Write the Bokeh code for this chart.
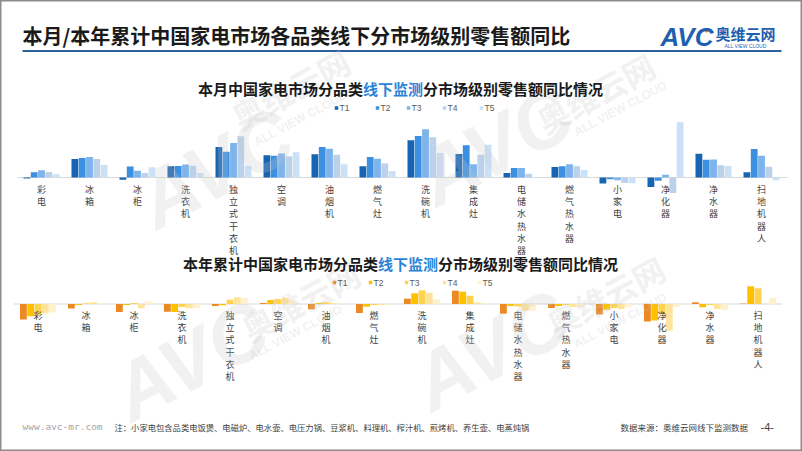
from bokeh.plotting import figure
from bokeh.models import ColumnDataSource, FactorRange, Range1d, Label
from bokeh.transform import dodge
from bokeh.core.properties import value
from bokeh.embed import file_html
from bokeh.resources import INLINE

# ---------------- data ----------------
categories = ["彩电", "冰箱", "冰柜", "洗衣机", "独立式干衣机", "空调", "油烟机", "燃气灶",
              "洗碗机", "集成灶", "电储水热水器", "燃气热水器", "小家电", "净化器", "净水器", "扫地机器人"]
series = ["T1", "T2", "T3", "T4", "T5"]

# 本月 (monthly) YoY, relative units
month_T1 = [-1.0, 18.5, -2.2, 11.2, 30.5, 22.3, 23.3, 11.2, 37.2, 23.5, 4.5, 10.5, -6.0, -9.5, 23.8, 5.2]
month_T2 = [5.3, 19.5, 11.0, 11.5, 25.8, 21.8, 30.5, 20.5, 41.5, 32.2, 9.5, 11.2, -1.7, -3.3, 17.8, 28.5]
month_T3 = [7.3, 20.5, 6.8, 13.0, 34.5, 24.0, 28.7, 18.7, 48.2, 13.3, 9.5, 13.3, -2.7, 2.8, 18.0, 21.7]
month_T4 = [5.6, 18.5, 4.5, 11.8, 41.3, 21.2, 22.7, 14.0, 40.2, 22.7, 3.7, 11.2, -5.5, -15.5, 12.2, 10.7]
month_T5 = [3.3, 12.5, 10.2, 4.5, 11.8, 25.2, 13.3, 6.5, 24.5, 32.7, 0.3, 7.5, -5.7, 55.3, 11.5, -2.7]

# 本年累计 (year-to-date) YoY
ytd_T1 = [-15.5, -4.5, -8.0, -7.8, -2.0, 1.0, -5.3, -9.0, 5.3, 13.3, -9.7, -4.0, -10.5, -17.5, 1.7, 0.4]
ytd_T2 = [-12.3, -1.0, -1.0, -8.0, -1.2, 4.0, 1.0, -2.7, 10.7, 12.3, -2.0, -2.0, -5.7, -16.5, -3.3, 17.7]
ytd_T3 = [-11.0, 0.8, 1.0, -3.0, 4.3, 5.0, 1.7, -1.0, 13.7, 8.3, -2.5, -1.0, -4.0, -10.0, -1.0, 15.7]
ytd_T4 = [-9.3, 1.7, -4.3, -4.3, 6.8, 6.3, 1.0, -1.0, 11.2, 1.7, -6.7, -3.0, -5.0, -26.5, -5.0, 0.3]
ytd_T5 = [-8.3, 0.5, 2.7, -4.3, 6.0, 4.0, 0.3, -0.5, 4.5, 0.5, -6.7, -3.0, -3.0, -3.0, -6.0, 6.0]

main_title = "本月/本年累计中国家电市场各品类线下分市场级别零售额同比"
top_title = ["本月中国家电市场分品类", "线下监测", "分市场级别零售额同比情况"]
bot_title = ["本年累计中国家电市场分品类", "线下监测", "分市场级别零售额同比情况"]
note_text = "注：小家电包含品类电饭煲、电磁炉、电水壶、电压力锅、豆浆机、料理机、榨汁机、煎烤机、养生壶、电蒸炖锅"
source_text = "数据来源：奥维云网线下监测数据"

# ---------------- styles ----------------
blues = ["#1565B3", "#3D8FE0", "#7DB4EC", "#BCD2EA", "#CBE1F8"]
oranges = ["#EB8A22", "#FFC000", "#FFD34F", "#FFE39A", "#FFF1CC"]
CJK = "Noto Sans CJK SC"
W, H = 802, 451
PAD = 0.354
UNIT = W / (len(categories) + 2 * PAD)   # pixels per category slot


def X(px):
    """page pixel -> synthetic x coordinate of the categorical range (for layout texts)"""
    return px / UNIT - PAD


cat_range = FactorRange(factors=categories, range_padding=PAD, range_padding_units="absolute")

p = figure(width=W, height=H, x_range=cat_range, y_range=Range1d(H, 0),
           x_axis_location=None, y_axis_location=None, output_backend="svg",
           toolbar_location=None, min_border=0)
p.grid.visible = False
p.outline_line_color = "#8c8c8c"
p.outline_line_width = 2
p.background_fill_color = "white"
p.border_fill_color = "white"
p.extra_y_ranges = {"top": Range1d(-274, 177), "bot": Range1d(-147.5, 303.5)}

src_top = ColumnDataSource(dict(cat=categories, T1=month_T1, T2=month_T2, T3=month_T3, T4=month_T4, T5=month_T5,
                                lab=["\n".join(c) for c in categories]))
src_bot = ColumnDataSource(dict(cat=categories, T1=ytd_T1, T2=ytd_T2, T3=ytd_T3, T4=ytd_T4, T5=ytd_T5,
                                lab=["\n".join(c) for c in categories]))

step = 0.152
bw = 0.142
offsets = [(i - 2) * step for i in range(5)]
shift_bot = -0.073


# ---------------- watermarks (drawn first, faint) ----------------
def watermark(ax, ay, bx, by, cx, cy):
    kw = dict(text_align="center", text_baseline="middle", angle=28, angle_units="deg",
              text_color="#C8C8C8", text_alpha=0.25)
    p.add_layout(Label(x=X(ax), y=ay, text="AVC", text_font="Liberation Sans", text_font_size="80px",
                       text_font_style="bold italic", **kw))
    p.add_layout(Label(x=X(bx), y=by, text="奥维云网", text_font=CJK, text_font_size="32px",
                       text_font_style="bold", **kw))
    p.add_layout(Label(x=X(cx), y=cy, text="ALL VIEW CLOUD", text_font="Liberation Sans", text_font_size="12px",
                       text_font_style="bold", **kw))


watermark(215, 168, 290, 88, 300, 118)
watermark(495, 145, 595, 92, 620, 108)
watermark(190, 360, 300, 300, 295, 332)
watermark(490, 350, 605, 295, 620, 320)

# baselines
base_src = ColumnDataSource(dict(a=[categories[0]], b=[categories[-1]], y=[0]))
p.segment(x0=dodge("a", -0.5, range=cat_range), x1=dodge("b", 0.55, range=cat_range), y0="y", y1="y",
          source=base_src, y_range_name="top", line_color="#D9D9D9", line_width=1)
p.segment(x0=dodge("a", -0.5 + shift_bot, range=cat_range), x1=dodge("b", 0.5 + shift_bot, range=cat_range),
          y0="y", y1="y", source=base_src, y_range_name="bot", line_color="#D9D9D9", line_width=1)

for s, off, cb, co in zip(series, offsets, blues, oranges):
    p.vbar(x=dodge("cat", off, range=cat_range), top=s, bottom=0, width=bw, source=src_top,
           y_range_name="top", fill_color=cb, line_color=None)
    p.vbar(x=dodge("cat", off + shift_bot, range=cat_range), top=s, bottom=0, width=bw, source=src_bot,
           y_range_name="bot", fill_color=co, line_color=None)

# category labels (vertical text)
p.text(x=dodge("cat", 0.0, range=cat_range), y=-5, text="lab", source=src_top,
       y_range_name="top", text_font=value(CJK), text_font_size="9px", text_line_height=0.95,
       text_align="center", text_baseline="top", text_color="#404040")
p.text(x=dodge("cat", shift_bot, range=cat_range), y=-4.5, text="lab", source=src_bot,
       y_range_name="bot", text_font=value(CJK), text_font_size="9px", text_line_height=0.95,
       text_align="center", text_baseline="top", text_color="#404040")

# ---------------- header ----------------
p.add_layout(Label(x=X(22), y=35, text=main_title, text_font=CJK, text_font_size="20px", text_font_style="bold",
                   text_baseline="middle", text_color="#1a1a1a"))
p.segment(x0=[X(22)], x1=[X(781)], y0=[50.5], y1=[50.5], line_color="#2C5F9E", line_width=2)

# logo
p.add_layout(Label(x=X(660), y=36, text="AVC", text_font="Liberation Sans", text_font_size="26px",
                   text_font_style="bold italic", text_baseline="middle", text_color="#1F5FB0"))
p.scatter(x=[X(706)], y=[30], size=4, marker="circle", fill_color="#F08A1C", line_color=None)
p.add_layout(Label(x=X(715), y=33, text="奥维云网", text_font=CJK, text_font_size="15px",
                   text_font_style="bold", text_baseline="middle", text_color="#1F5FB0"))
p.add_layout(Label(x=X(724), y=45, text="ALL VIEW CLOUD", text_font="Liberation Sans", text_font_size="5px",
                   text_baseline="middle", text_color="#1F5FB0"))


def colored_title(parts, y):
    widths = [len(t) * 15 for t in parts]
    x = 400 - sum(widths) / 2
    cols = ["#1a1a1a", "#2B84D8", "#1a1a1a"]
    for t, w, c in zip(parts, widths, cols):
        p.add_layout(Label(x=X(x), y=y, text=t, text_font=CJK, text_font_size="15px", text_font_style="bold",
                           text_baseline="middle", text_color=c))
        x += w


colored_title(top_title, 88)
colored_title(bot_title, 263)


def legend(xs, y, colors):
    p.scatter(x=[X(v) for v in xs], y=[y] * 5, marker="square", size=3.5, fill_color=colors, line_color=None)
    for xv, s in zip(xs, series):
        p.add_layout(Label(x=X(xv + 3), y=y, text=s, text_font="Liberation Sans", text_font_size="8.5px",
                           text_baseline="middle", text_color="#595959"))


legend([336, 377, 408, 444, 481], 107.5, blues)
legend([334, 370, 406, 444, 479], 282, oranges)

# ---------------- footer ----------------
p.add_layout(Label(x=X(22), y=426, text="www.avc-mr.com", text_font="DejaVu Sans Mono", text_font_size="9.5px",
                   text_baseline="middle", text_color="#A6A6A6"))
p.add_layout(Label(x=X(114), y=426, text=note_text, text_font=CJK, text_font_size="8.3px",
                   text_baseline="middle", text_color="#404040"))
p.add_layout(Label(x=X(620), y=426, text=source_text, text_font=CJK, text_font_size="8.5px",
                   text_baseline="middle", text_color="#404040"))
p.add_layout(Label(x=X(760), y=426, text="-4-", text_font="Liberation Sans", text_font_size="11px",
                   text_baseline="middle", text_color="#404040"))

open("out.html", "w").write(file_html(p, INLINE))
